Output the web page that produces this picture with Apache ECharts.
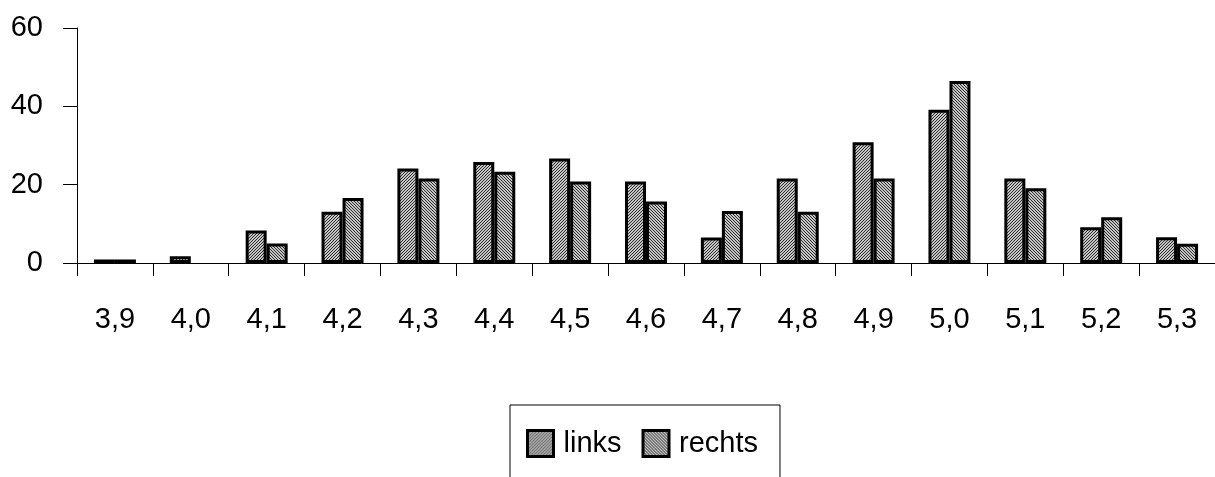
<!DOCTYPE html>
<html>
<head>
<meta charset="utf-8">
<script src="https://cdn.jsdelivr.net/npm/echarts@6/dist/echarts.min.js"></script>
<style>
  html, body { margin: 0; padding: 0; background: #fff; }
  #chart { width: 1215px; height: 477px; }
</style>
</head>
<body>
<div id="chart"></div>
<script>
// Categories along the x axis
const categories = ['3,9', '4,0', '4,1', '4,2', '4,3', '4,4', '4,5', '4,6', '4,7', '4,8', '4,9', '5,0', '5,1', '5,2', '5,3'];
// Series values
const links  = [0.9, 1.7, 8.3, 13.1, 24.1, 25.8, 26.7, 20.8, 6.5, 21.6, 30.8, 39.1, 21.6, 9.1, 6.6];
const rechts = [0.9, null, 5.0, 16.6, 21.6, 23.3, 20.8, 15.7, 13.3, 13.1, 21.6, 46.5, 19.1, 11.7, 4.9];
const seriesNames = ['links', 'rechts'];
// Value axis range
const yMin = 0, yMax = 60, yStep = 20;

const FONT = '"Liberation Sans", Arial, sans-serif';

// Small tiled hatch patterns: '/' for links, '\' for rechts
function hatch(forward) {
  const n = 3;
  const c = document.createElement('canvas');
  c.width = n; c.height = n;
  const ctx = c.getContext('2d');
  ctx.fillStyle = '#c4c4c4';
  ctx.fillRect(0, 0, n, n);
  ctx.fillStyle = '#2e2e2e';
  for (let x = 0; x < n; x++) {
    for (let y = 0; y < n; y++) {
      const d = forward ? (x + y) % n : ((x - y) % n + n) % n;
      if (d === 0) ctx.fillRect(x, y, 1, 1);
    }
  }
  return { image: c, repeat: 'repeat' };
}

const chart = echarts.init(document.getElementById('chart'), null, { renderer: 'canvas' });

const barStyle = (forward) => ({
  color: hatch(forward),
  borderColor: '#000',
  borderWidth: 3
});

chart.setOption({
  animation: false,
  backgroundColor: '#fff',
  textStyle: { fontFamily: FONT },
  grid: { left: 77, right: 0, top: 28, bottom: 214, containLabel: false },
  legend: {
    data: seriesNames,
    left: 510,
    top: 405,
    orient: 'horizontal',
    icon: 'rect',
    itemWidth: 26,
    itemHeight: 26,
    itemGap: 20,
    padding: [24, 22, 80, 16],
    borderColor: '#000',
    borderWidth: 1,
    backgroundColor: '#fff',
    itemStyle: { borderColor: '#000', borderWidth: 3 },
    textStyle: { fontFamily: FONT, fontSize: 29, color: '#000', padding: [0, 0, 0, 5] }
  },
  xAxis: {
    type: 'category',
    data: categories,
    boundaryGap: true,
    axisLine: { show: true, lineStyle: { color: '#000', width: 1 } },
    axisTick: { show: true, length: 13, lineStyle: { color: '#000', width: 1 } },
    axisLabel: { fontFamily: FONT, fontSize: 29, color: '#000', margin: 42, interval: 0 },
    splitLine: { show: false }
  },
  yAxis: {
    type: 'value',
    min: yMin,
    max: yMax,
    interval: yStep,
    axisLine: { show: true, lineStyle: { color: '#000', width: 1 } },
    axisTick: { show: true, length: 14, lineStyle: { color: '#000', width: 1 } },
    axisLabel: { fontFamily: FONT, fontSize: 29, color: '#000', margin: 34 },
    splitLine: { show: false }
  },
  series: [
    {
      name: seriesNames[0],
      type: 'bar',
      data: links,
      barWidth: 21,
      barGap: '0%',
      itemStyle: barStyle(true)
    },
    {
      name: seriesNames[1],
      type: 'bar',
      data: rechts,
      barWidth: 21,
      barGap: '0%',
      itemStyle: barStyle(false)
    }
  ]
});
</script>
</body>
</html>
